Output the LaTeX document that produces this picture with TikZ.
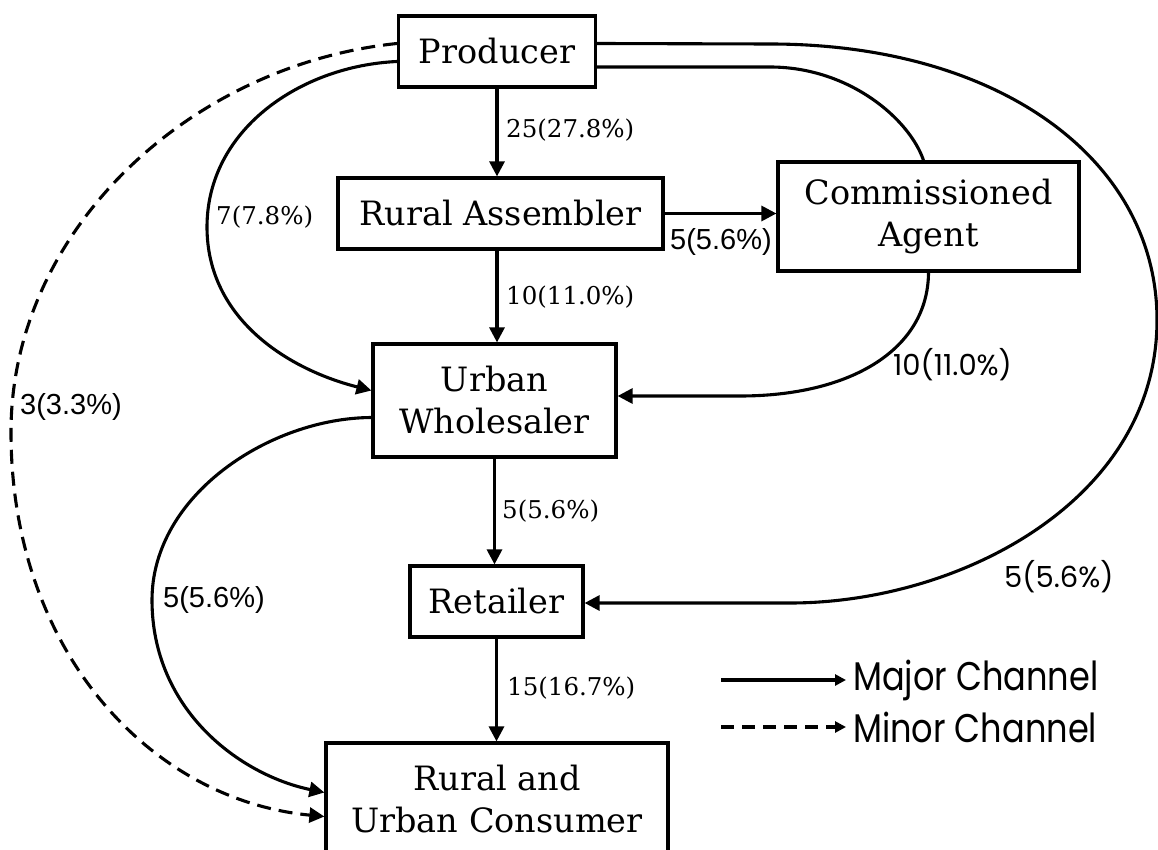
\documentclass[tikz,border=0pt]{standalone}
\usepackage{fontspec}
\setmainfont{DejaVu Serif}
\newfontfamily\sansf{Liberation Sans}
\newfontfamily\geof{Poppins}
\newfontfamily\legf[FakeStretch=0.84]{Poppins}
\usetikzlibrary{arrows.meta,calc}
\begin{document}
\begin{tikzpicture}[x=1pt,y=-1pt,
  box/.style={draw, line width=3.2pt, align=center, inner sep=0pt, font=\fontsize{33.5}{42}\selectfont},
  conn/.style={line width=3.1pt},
  arr/.style={conn, -{Triangle[length=15pt,width=15pt]}},
  dsh/.style={arr, dash pattern=on 14pt off 8pt},
  lab/.style={inner sep=0pt, anchor=west},
  slab/.style={lab, font=\fontsize{24.5}{28}\selectfont},
  sans/.style={lab, font=\sansf\fontsize{29}{32}\selectfont},
  geo/.style={lab, font=\geof\fontsize{29}{32}\selectfont},
  leg/.style={font=\legf\fontsize{40}{44}\selectfont, inner sep=0pt, anchor=west},
  legarr/.style={-{Triangle[length=11pt,width=11pt]}},
]
\clip (0,0) rectangle (1158,850);
\fill[white] (0,0) rectangle (1158,850);

% nodes
\node[box, minimum width=197pt, minimum height=71pt] (prod) at (497,51.5) {Producer};
\node[box, minimum width=325pt, minimum height=71pt] (ra) at (500.5,213.5) {Rural Assembler};
\node[box, minimum width=301pt, minimum height=109pt] (ca) at (928.5,216.5) {Commissioned\\Agent};
\node[box, minimum width=243pt, minimum height=113pt] (uw) at (494.5,400.5) {Urban\\Wholesaler};
\node[box, minimum width=173pt, minimum height=71pt] (ret) at (496.5,601.5) {Retailer};
\node[box, minimum width=342pt, minimum height=113pt] (cons) at (497,799.5) {Rural and\\Urban Consumer};

% straight connectors
\draw[arr] (prod.south) -- (prod.south |- ra.north);
\draw[arr] (ra.east) -- (ra.east -| ca.west);
\draw[arr] (prod.south |- ra.south) -- (prod.south |- uw.north);
\draw[arr] (uw.south) -- (uw.south |- ret.north);
\draw[arr] (ret.south) -- (ret.south |- cons.north);

% curved connectors
\draw[arr] ($(prod.west)+(0,10)$) .. controls (300,66) and (207,130) .. (207,227)
  .. controls (207,320) and (290,370) .. ($(uw.west)+(0,-10)$);
\draw[dsh] ($(prod.west)+(0,-8)$) .. controls (190,65) and (12,230) .. (11,430)
  .. controls (10,650) and (150,800) .. ($(cons.west)+(0,17)$);
\draw[arr] ($(uw.west)+(0,17)$) .. controls (270,418) and (152,495) .. (152,600)
  .. controls (152,710) and (240,775) .. ($(cons.west)+(0,-7)$);
\draw[conn] ($(prod.east)+(0,15.5)$) -- (770,67) .. controls (850,67) and (910,120) .. ($(ca.north)+(-5,0)$);
\draw[arr] (ca.south) .. controls (928,350) and (850,396) .. (740,396) -- ($(uw.east)+(0,-4.5)$);
\draw[arr] ($(prod.east)+(0,-8)$) -- (770,44) .. controls (1000,44) and (1157,160) .. (1157,320)
  .. controls (1157,500) and (960,603) .. (790,603) -- ($(ret.east)+(0,1.5)$);

% labels
\node[slab] (l1) at (506,130) {25(27.8\%)};
\node[sans] (l2) at (670,242) {5(5.6\%)};
\node[slab] (l3) at (506,297) {10(11.0\%)};
\node[slab] (l4) at (216,217) {7(7.8\%)};
\node[sans] (l5) at (20,407) {3(3.3\%)};
\node[geo] (l6) at (893,365) {10(11.0\%)};
\node[slab] (l7) at (502,511) {5(5.6\%)};
\node[sans] (l8) at (163,600) {5(5.6\%)};
\node[geo] (l9) at (1004,577) {5(5.6\%)};
\node[slab] (l10) at (507,688) {15(16.7\%)};

% legend
\coordinate (m1) at (721,680);
\coordinate (m2) at (846,680);
\coordinate (n1) at (721,727);
\coordinate (n2) at (846,727);
\draw[conn, legarr] (m1) -- (m2);
\draw[conn, legarr, dash pattern=on 13pt off 8pt] (n1) -- (n2);
\node[leg] (lg1) at (853,680) {Major Channel};
\node[leg] (lg2) at (853,727) {Minor Channel};
\end{tikzpicture}
\end{document}
